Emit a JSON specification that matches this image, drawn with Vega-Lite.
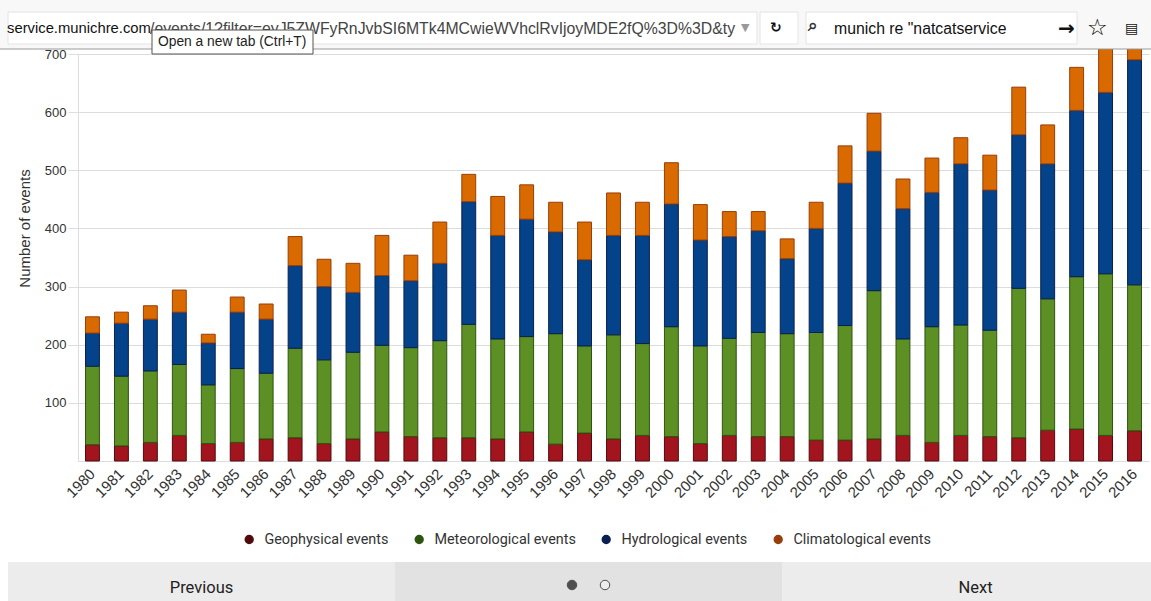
{
"$schema":"https://vega.github.io/schema/vega-lite/v6.json",
"width":1071,"height":407,"autosize":"none",
"padding":{"left":78,"top":54,"right":2,"bottom":140},
"background":"white",
"config":{"view":{"stroke":null},"font":"Liberation Sans"},
"datasets":{
"events":[
{"year":"1980","series":"Geophysical events","rank":1,"events":28},{"year":"1980","series":"Meteorological events","rank":2,"events":135},{"year":"1980","series":"Hydrological events","rank":3,"events":57},{"year":"1980","series":"Climatological events","rank":4,"events":28},
{"year":"1981","series":"Geophysical events","rank":1,"events":26},{"year":"1981","series":"Meteorological events","rank":2,"events":120},{"year":"1981","series":"Hydrological events","rank":3,"events":91},{"year":"1981","series":"Climatological events","rank":4,"events":19},
{"year":"1982","series":"Geophysical events","rank":1,"events":32},{"year":"1982","series":"Meteorological events","rank":2,"events":123},{"year":"1982","series":"Hydrological events","rank":3,"events":89},{"year":"1982","series":"Climatological events","rank":4,"events":23},
{"year":"1983","series":"Geophysical events","rank":1,"events":44},{"year":"1983","series":"Meteorological events","rank":2,"events":122},{"year":"1983","series":"Hydrological events","rank":3,"events":90},{"year":"1983","series":"Climatological events","rank":4,"events":38},
{"year":"1984","series":"Geophysical events","rank":1,"events":30},{"year":"1984","series":"Meteorological events","rank":2,"events":101},{"year":"1984","series":"Hydrological events","rank":3,"events":72},{"year":"1984","series":"Climatological events","rank":4,"events":15},
{"year":"1985","series":"Geophysical events","rank":1,"events":32},{"year":"1985","series":"Meteorological events","rank":2,"events":127},{"year":"1985","series":"Hydrological events","rank":3,"events":97},{"year":"1985","series":"Climatological events","rank":4,"events":26},
{"year":"1986","series":"Geophysical events","rank":1,"events":38},{"year":"1986","series":"Meteorological events","rank":2,"events":113},{"year":"1986","series":"Hydrological events","rank":3,"events":93},{"year":"1986","series":"Climatological events","rank":4,"events":26},
{"year":"1987","series":"Geophysical events","rank":1,"events":40},{"year":"1987","series":"Meteorological events","rank":2,"events":154},{"year":"1987","series":"Hydrological events","rank":3,"events":142},{"year":"1987","series":"Climatological events","rank":4,"events":50},
{"year":"1988","series":"Geophysical events","rank":1,"events":30},{"year":"1988","series":"Meteorological events","rank":2,"events":144},{"year":"1988","series":"Hydrological events","rank":3,"events":126},{"year":"1988","series":"Climatological events","rank":4,"events":47},
{"year":"1989","series":"Geophysical events","rank":1,"events":38},{"year":"1989","series":"Meteorological events","rank":2,"events":149},{"year":"1989","series":"Hydrological events","rank":3,"events":103},{"year":"1989","series":"Climatological events","rank":4,"events":50},
{"year":"1990","series":"Geophysical events","rank":1,"events":50},{"year":"1990","series":"Meteorological events","rank":2,"events":149},{"year":"1990","series":"Hydrological events","rank":3,"events":120},{"year":"1990","series":"Climatological events","rank":4,"events":69},
{"year":"1991","series":"Geophysical events","rank":1,"events":42},{"year":"1991","series":"Meteorological events","rank":2,"events":153},{"year":"1991","series":"Hydrological events","rank":3,"events":115},{"year":"1991","series":"Climatological events","rank":4,"events":44},
{"year":"1992","series":"Geophysical events","rank":1,"events":40},{"year":"1992","series":"Meteorological events","rank":2,"events":167},{"year":"1992","series":"Hydrological events","rank":3,"events":133},{"year":"1992","series":"Climatological events","rank":4,"events":71},
{"year":"1993","series":"Geophysical events","rank":1,"events":40},{"year":"1993","series":"Meteorological events","rank":2,"events":195},{"year":"1993","series":"Hydrological events","rank":3,"events":211},{"year":"1993","series":"Climatological events","rank":4,"events":47},
{"year":"1994","series":"Geophysical events","rank":1,"events":38},{"year":"1994","series":"Meteorological events","rank":2,"events":172},{"year":"1994","series":"Hydrological events","rank":3,"events":178},{"year":"1994","series":"Climatological events","rank":4,"events":67},
{"year":"1995","series":"Geophysical events","rank":1,"events":50},{"year":"1995","series":"Meteorological events","rank":2,"events":164},{"year":"1995","series":"Hydrological events","rank":3,"events":202},{"year":"1995","series":"Climatological events","rank":4,"events":59},
{"year":"1996","series":"Geophysical events","rank":1,"events":29},{"year":"1996","series":"Meteorological events","rank":2,"events":190},{"year":"1996","series":"Hydrological events","rank":3,"events":175},{"year":"1996","series":"Climatological events","rank":4,"events":51},
{"year":"1997","series":"Geophysical events","rank":1,"events":48},{"year":"1997","series":"Meteorological events","rank":2,"events":150},{"year":"1997","series":"Hydrological events","rank":3,"events":148},{"year":"1997","series":"Climatological events","rank":4,"events":65},
{"year":"1998","series":"Geophysical events","rank":1,"events":38},{"year":"1998","series":"Meteorological events","rank":2,"events":179},{"year":"1998","series":"Hydrological events","rank":3,"events":171},{"year":"1998","series":"Climatological events","rank":4,"events":73},
{"year":"1999","series":"Geophysical events","rank":1,"events":44},{"year":"1999","series":"Meteorological events","rank":2,"events":158},{"year":"1999","series":"Hydrological events","rank":3,"events":186},{"year":"1999","series":"Climatological events","rank":4,"events":57},
{"year":"2000","series":"Geophysical events","rank":1,"events":42},{"year":"2000","series":"Meteorological events","rank":2,"events":189},{"year":"2000","series":"Hydrological events","rank":3,"events":211},{"year":"2000","series":"Climatological events","rank":4,"events":71},
{"year":"2001","series":"Geophysical events","rank":1,"events":30},{"year":"2001","series":"Meteorological events","rank":2,"events":168},{"year":"2001","series":"Hydrological events","rank":3,"events":182},{"year":"2001","series":"Climatological events","rank":4,"events":61},
{"year":"2002","series":"Geophysical events","rank":1,"events":44},{"year":"2002","series":"Meteorological events","rank":2,"events":167},{"year":"2002","series":"Hydrological events","rank":3,"events":175},{"year":"2002","series":"Climatological events","rank":4,"events":43},
{"year":"2003","series":"Geophysical events","rank":1,"events":42},{"year":"2003","series":"Meteorological events","rank":2,"events":179},{"year":"2003","series":"Hydrological events","rank":3,"events":175},{"year":"2003","series":"Climatological events","rank":4,"events":33},
{"year":"2004","series":"Geophysical events","rank":1,"events":42},{"year":"2004","series":"Meteorological events","rank":2,"events":177},{"year":"2004","series":"Hydrological events","rank":3,"events":129},{"year":"2004","series":"Climatological events","rank":4,"events":34},
{"year":"2005","series":"Geophysical events","rank":1,"events":36},{"year":"2005","series":"Meteorological events","rank":2,"events":185},{"year":"2005","series":"Hydrological events","rank":3,"events":179},{"year":"2005","series":"Climatological events","rank":4,"events":45},
{"year":"2006","series":"Geophysical events","rank":1,"events":36},{"year":"2006","series":"Meteorological events","rank":2,"events":197},{"year":"2006","series":"Hydrological events","rank":3,"events":245},{"year":"2006","series":"Climatological events","rank":4,"events":64},
{"year":"2007","series":"Geophysical events","rank":1,"events":38},{"year":"2007","series":"Meteorological events","rank":2,"events":255},{"year":"2007","series":"Hydrological events","rank":3,"events":240},{"year":"2007","series":"Climatological events","rank":4,"events":65},
{"year":"2008","series":"Geophysical events","rank":1,"events":44},{"year":"2008","series":"Meteorological events","rank":2,"events":166},{"year":"2008","series":"Hydrological events","rank":3,"events":224},{"year":"2008","series":"Climatological events","rank":4,"events":51},
{"year":"2009","series":"Geophysical events","rank":1,"events":32},{"year":"2009","series":"Meteorological events","rank":2,"events":199},{"year":"2009","series":"Hydrological events","rank":3,"events":231},{"year":"2009","series":"Climatological events","rank":4,"events":59},
{"year":"2010","series":"Geophysical events","rank":1,"events":44},{"year":"2010","series":"Meteorological events","rank":2,"events":190},{"year":"2010","series":"Hydrological events","rank":3,"events":277},{"year":"2010","series":"Climatological events","rank":4,"events":45},
{"year":"2011","series":"Geophysical events","rank":1,"events":42},{"year":"2011","series":"Meteorological events","rank":2,"events":183},{"year":"2011","series":"Hydrological events","rank":3,"events":241},{"year":"2011","series":"Climatological events","rank":4,"events":60},
{"year":"2012","series":"Geophysical events","rank":1,"events":40},{"year":"2012","series":"Meteorological events","rank":2,"events":257},{"year":"2012","series":"Hydrological events","rank":3,"events":264},{"year":"2012","series":"Climatological events","rank":4,"events":82},
{"year":"2013","series":"Geophysical events","rank":1,"events":53},{"year":"2013","series":"Meteorological events","rank":2,"events":226},{"year":"2013","series":"Hydrological events","rank":3,"events":232},{"year":"2013","series":"Climatological events","rank":4,"events":67},
{"year":"2014","series":"Geophysical events","rank":1,"events":55},{"year":"2014","series":"Meteorological events","rank":2,"events":262},{"year":"2014","series":"Hydrological events","rank":3,"events":286},{"year":"2014","series":"Climatological events","rank":4,"events":74},
{"year":"2015","series":"Geophysical events","rank":1,"events":44},{"year":"2015","series":"Meteorological events","rank":2,"events":278},{"year":"2015","series":"Hydrological events","rank":3,"events":312},{"year":"2015","series":"Climatological events","rank":4,"events":81},
{"year":"2016","series":"Geophysical events","rank":1,"events":52},{"year":"2016","series":"Meteorological events","rank":2,"events":251},{"year":"2016","series":"Hydrological events","rank":3,"events":387},{"year":"2016","series":"Climatological events","rank":4,"events":30}
],
"pager":[{"slot":"Previous","band":"footer"},{"slot":"pages","band":"footer"},{"slot":"Next","band":"footer"}],
"toolbar":[{"box":"toolbar","from":0,"to":1151,"top":0,"bottom":49},{"box":"address","from":8,"to":757,"top":12,"bottom":44},{"box":"reload","from":760,"to":798,"top":12,"bottom":44},{"box":"search","from":806,"to":1077,"top":12,"bottom":44}],
"tip":[{"from":152,"to":313,"top":30,"bottom":54}],
"labels":[{"label":"service.munichre.com","at":7,"line":29},{"label":"/events/1?filter=eyJ5ZWFyRnJvbSI6MTk4MCwieWVhclRvIjoyMDE2fQ%3D%3D&ty","at":150,"line":29}],
"searchText":[{"label":"munich re \"natcatservice","at":834,"line":29}],
"icons":[{"label":"▼","at":741,"line":28,"tone":"grey"},{"label":"↻","at":770,"line":28,"tone":"dark"},{"label":"⌕","at":808,"line":26,"tone":"lens"},{"label":"→","at":1058,"line":29,"tone":"arrow"},{"label":"☆","at":1087,"line":28,"tone":"star"},{"label":"▤","at":1125,"line":29,"tone":"dark"}],
"tipText":[{"label":"Open a new tab (Ctrl+T)","at":158,"line":42}],
"dots":[{"page":"current","at":572,"line":585},{"page":"other","at":605,"line":585}]
},
"resolve":{"scale":{"x":"independent","y":"independent","fill":"independent","stroke":"independent"},"axis":{"x":"independent","y":"independent"}},
"layer":[
{"data":{"name":"events"},"mark":{"type":"bar","strokeWidth":1},
"encoding":{
"x":{"field":"year","type":"ordinal","scale":{"paddingInner":0.52,"paddingOuter":0.26},
"axis":{"title":null,"labelAngle":-45,"labelAlign":"right","labelBaseline":"middle","labelFontSize":15,"labelColor":"#333","labelPadding":10,"ticks":false,"domainColor":"#ddd","grid":false,"labelOverlap":false}},
"y":{"field":"events","type":"quantitative","stack":"zero","scale":{"domain":[0,700],"nice":false},
"axis":{"title":"Number of events","titleFont":"Liberation Sans","titleFontWeight":"normal","titleFontSize":15,"titleColor":"#333","titleX":-46,"titleY":174,"values":[100,200,300,400,500,600,700],"labelFontSize":13,"labelColor":"#333","tickColor":"#ddd","tickSize":10,"labelPadding":2,"domainColor":"#ddd","gridColor":"#dcdcdc","grid":true}},
"order":{"field":"rank"},
"fill":{"field":"series","type":"nominal","legend":null,"scale":{"domain":["Climatological events","Hydrological events","Meteorological events","Geophysical events"],"range":["#d96a00","#04428a","#5c8f24","#a3151e"]}},
"stroke":{"field":"series","type":"nominal","scale":{"domain":["Geophysical events","Meteorological events","Hydrological events","Climatological events"],"range":["#500a0c","#2e5510","#0a2050","#983e0a"]},
"legend":{"title":null,"orient":"none","legendX":164,"legendY":478,"direction":"horizontal","columns":4,"symbolType":"circle","symbolSize":19,"symbolStrokeWidth":5,"labelFont":"Roboto","labelFontSize":14.4,"labelColor":"#333","columnPadding":18,"labelOffset":8}}
}},
{"data":{"name":"pager"},"mark":{"type":"rect","fill":"#ececec"},"transform":[{"filter":"datum.slot !== 'pages'"}],
"encoding":{"x":{"field":"slot","type":"nominal","sort":["Previous","pages","Next"],"scale":{"domain":["Previous","pages","Next"],"range":[-70,1091],"paddingInner":0,"paddingOuter":0},"axis":null},
"y":{"field":"band","type":"nominal","scale":{"range":[508,547],"paddingInner":0,"paddingOuter":0},"axis":null}}},
{"data":{"name":"pager"},"mark":{"type":"rect","fill":"#e2e2e2"},"transform":[{"filter":"datum.slot === 'pages'"}],
"encoding":{"x":{"field":"slot","type":"nominal","scale":{"domain":["Previous","pages","Next"],"range":[-70,1091],"paddingInner":0,"paddingOuter":0},"axis":null},
"y":{"field":"band","type":"nominal","scale":{"range":[508,547],"paddingInner":0,"paddingOuter":0},"axis":null}}},
{"data":{"name":"pager"},"mark":{"type":"text","font":"Roboto","fontSize":16.5,"color":"#222","dy":6},"transform":[{"filter":"datum.slot !== 'pages'"}],
"encoding":{"x":{"field":"slot","type":"nominal","scale":{"domain":["Previous","pages","Next"],"range":[-70,1091],"paddingInner":0,"paddingOuter":0},"axis":null},
"y":{"field":"band","type":"nominal","scale":{"range":[508,547],"paddingInner":0,"paddingOuter":0},"axis":null},
"text":{"field":"slot"}}},
{"data":{"name":"toolbar"},"mark":{"type":"rect","fill":"#f8f8f8"},"transform":[{"filter":"datum.box === 'toolbar'"}],
"encoding":{"x":{"field":"from","type":"quantitative","scale":{"domain":[0,1151],"range":[-78,1073],"nice":false,"zero":false},"axis":null},"x2":{"field":"to"},
"y":{"field":"top","type":"quantitative","scale":{"domain":[0,601],"range":[-54,547],"nice":false,"zero":false},"axis":null},"y2":{"field":"bottom"}}},
{"data":{"name":"toolbar"},"mark":{"type":"rule","stroke":"#9a9a9a","strokeWidth":1.2},"transform":[{"filter":"datum.box === 'toolbar'"}],
"encoding":{"x":{"field":"from","type":"quantitative","scale":{"domain":[0,1151],"range":[-78,1073],"nice":false,"zero":false},"axis":null},"x2":{"field":"to"},
"y":{"field":"bottom","type":"quantitative","scale":{"domain":[0,601],"range":[-54,547],"nice":false,"zero":false},"axis":null}}},
{"data":{"name":"toolbar"},"mark":{"type":"rect","fill":"#ffffff","stroke":"#e4e4e4"},"transform":[{"filter":"datum.box !== 'toolbar'"}],
"encoding":{"x":{"field":"from","type":"quantitative","scale":{"domain":[0,1151],"range":[-78,1073],"nice":false,"zero":false},"axis":null},"x2":{"field":"to"},
"y":{"field":"top","type":"quantitative","scale":{"domain":[0,601],"range":[-54,547],"nice":false,"zero":false},"axis":null},"y2":{"field":"bottom"}}},
{"data":{"name":"labels"},"mark":{"type":"text","align":"left","font":"Liberation Sans","fontSize":15.8,"color":"#444"},"transform":[{"filter":"datum.at > 100"}],
"encoding":{"x":{"field":"at","type":"quantitative","scale":{"domain":[0,1151],"range":[-78,1073],"nice":false,"zero":false},"axis":null},
"y":{"field":"line","type":"quantitative","scale":{"domain":[0,601],"range":[-54,547],"nice":false,"zero":false},"axis":null},"text":{"field":"label"}}},
{"data":{"name":"labels"},"mark":{"type":"text","align":"left","font":"Liberation Sans","fontSize":14.8,"color":"#111"},"transform":[{"filter":"datum.at < 100"}],
"encoding":{"x":{"field":"at","type":"quantitative","scale":{"domain":[0,1151],"range":[-78,1073],"nice":false,"zero":false},"axis":null},
"y":{"field":"line","type":"quantitative","scale":{"domain":[0,601],"range":[-54,547],"nice":false,"zero":false},"axis":null},"text":{"field":"label"}}},
{"data":{"name":"searchText"},"mark":{"type":"text","align":"left","font":"Liberation Sans","fontSize":15.8,"color":"#111"},
"encoding":{"x":{"field":"at","type":"quantitative","scale":{"domain":[0,1151],"range":[-78,1073],"nice":false,"zero":false},"axis":null},
"y":{"field":"line","type":"quantitative","scale":{"domain":[0,601],"range":[-54,547],"nice":false,"zero":false},"axis":null},"text":{"field":"label"}}},
{"data":{"name":"icons"},"mark":{"type":"text","align":"left","font":"DejaVu Sans","fontWeight":"bold"},
"encoding":{"x":{"field":"at","type":"quantitative","scale":{"domain":[0,1151],"range":[-78,1073],"nice":false,"zero":false},"axis":null},
"y":{"field":"line","type":"quantitative","scale":{"domain":[0,601],"range":[-54,547],"nice":false,"zero":false},"axis":null},"text":{"field":"label"},
"size":{"field":"tone","type":"ordinal","legend":null,"scale":{"domain":["grey","dark","lens","arrow","star"],"range":[11,23,38,14,26]}},
"color":{"field":"tone","type":"nominal","legend":null,"scale":{"domain":["grey","dark","lens","arrow","star"],"range":["#999999","#111111","#333333","#111111","#000000"]}}}},
{"data":{"name":"tip"},"mark":{"type":"rect","fill":"#ffffff","stroke":"#555555","strokeWidth":1},
"encoding":{"x":{"field":"from","type":"quantitative","scale":{"domain":[0,1151],"range":[-78,1073],"nice":false,"zero":false},"axis":null},"x2":{"field":"to"},
"y":{"field":"top","type":"quantitative","scale":{"domain":[0,601],"range":[-54,547],"nice":false,"zero":false},"axis":null},"y2":{"field":"bottom"}}},
{"data":{"name":"tipText"},"mark":{"type":"text","align":"left","font":"Liberation Sans","fontSize":13.8,"color":"#222"},
"encoding":{"x":{"field":"at","type":"quantitative","scale":{"domain":[0,1151],"range":[-78,1073],"nice":false,"zero":false},"axis":null},
"y":{"field":"line","type":"quantitative","scale":{"domain":[0,601],"range":[-54,547],"nice":false,"zero":false},"axis":null},"text":{"field":"label"}}},
{"data":{"name":"dots"},"mark":{"type":"point","shape":"circle","size":90,"stroke":"#111","strokeWidth":1,"filled":false},
"encoding":{"x":{"field":"at","type":"quantitative","scale":{"domain":[0,1151],"range":[-78,1073],"nice":false,"zero":false},"axis":null},
"y":{"field":"line","type":"quantitative","scale":{"domain":[0,601],"range":[-54,547],"nice":false,"zero":false},"axis":null},
"fill":{"field":"page","type":"nominal","legend":null,"scale":{"domain":["current","other"],"range":["#111111","#f2f2f2"]}}}}
]
}
